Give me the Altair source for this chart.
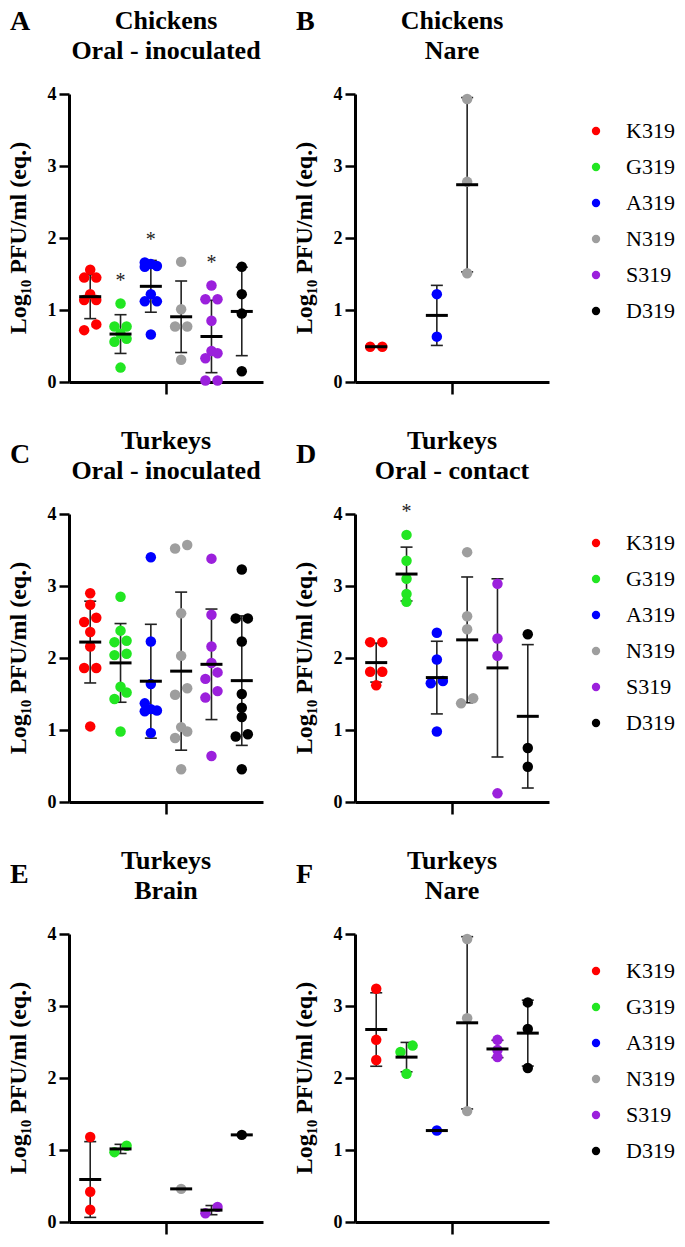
import altair as alt
import pandas as pd

strains = ["K319", "G319", "A319", "N319", "S319", "D319"]
colors = ["#ff0000", "#22e622", "#0000ff", "#9e9e9e", "#9b20dc", "#000000"]

chickens_oral_inoc = {
    "K319": [1.56, 1.45, 1.45, 1.22, 1.14, 1.14, 0.80, 0.72],
    "G319": [1.09, 0.77, 0.77, 0.67, 0.60, 0.56, 0.20],
    "A319": [1.66, 1.64, 1.61, 1.60, 1.22, 1.12, 1.12, 0.66],
    "N319": [1.67, 1.01, 0.77, 0.77, 0.31],
    "S319": [1.34, 1.15, 1.15, 0.85, 0.43, 0.40, 0.33, 0.02, 0.02],
    "D319": [1.60, 1.22, 0.95, 0.15],
}
chickens_nare = {
    "K319": [0.49, 0.49], "G319": [], "A319": [1.22, 0.63],
    "N319": [3.93, 2.78, 1.51], "S319": [], "D319": [],
}
turkeys_oral_inoc = {
    "K319": [2.90, 2.74, 2.56, 2.50, 2.36, 2.16, 1.86, 1.86, 1.05],
    "G319": [2.85, 2.38, 2.24, 2.22, 2.06, 2.04, 1.60, 1.52, 1.43, 0.98],
    "A319": [3.40, 2.23, 1.64, 1.37, 1.29, 1.27, 1.26, 0.96],
    "N319": [3.57, 3.52, 2.62, 2.03, 1.58, 1.49, 1.04, 0.98, 0.89, 0.455],
    "S319": [3.38, 2.60, 2.16, 1.93, 1.80, 1.71, 1.54, 1.45, 0.64],
    "D319": [3.23, 2.55, 2.55, 2.23, 1.50, 1.31, 1.18, 0.94, 0.91, 0.455],
}
turkeys_oral_contact = {
    "K319": [2.22, 2.22, 1.81, 1.81, 1.62],
    "G319": [3.71, 3.35, 3.10, 2.89, 2.78],
    "A319": [2.35, 1.98, 1.68, 1.65, 0.98],
    "N319": [3.47, 2.58, 2.40, 1.44, 1.37],
    "S319": [3.03, 2.27, 2.03, 0.12],
    "D319": [2.33, 0.75, 0.49],
}
turkeys_brain = {
    "K319": [1.18, 0.42, 0.17], "G319": [1.06, 0.97], "A319": [],
    "N319": [0.46], "S319": [0.21, 0.12], "D319": [1.21],
}
turkeys_nare = {
    "K319": [3.24, 2.53, 2.25], "G319": [2.45, 2.36, 2.06], "A319": [1.27],
    "N319": [3.93, 2.83, 1.54], "S319": [2.53, 2.39, 2.29], "D319": [3.05, 2.68, 2.14],
}
sig_chickens_oral = ["G319", "A319", "S319"]
sig_turkeys_contact = ["G319"]

YTITLE = "Log\u2081\u2080 PFU/ml (eq.)"
SERIF = "Liberation Serif"
STEP = 0.2  # horizontal spread of overlapping dots (x units)
PATTERNS = {1: [0], 2: [1, -1], 3: [0, 1, -1], 4: [-1, 0, 1, -1]}
W, H = 194, 288


def swarm(vals, gap=0.095):
    order = sorted(range(len(vals)), key=lambda k: -vals[k])
    offs = [0] * len(vals)
    bins = []
    for k in order:
        if bins and vals[bins[-1][-1]] - vals[k] < gap:
            bins[-1].append(k)
        else:
            bins.append([k])
    for b in bins:
        pat = PATTERNS.get(len(b), [((j + 1) // 2) * (1 if j % 2 else -1) for j in range(len(b))])
        for k, p in zip(b, pat):
            offs[k] = p
    return offs


xscale = alt.Scale(domain=[0.3, 6.7], nice=False, zero=False)
yscale = alt.Scale(domain=[0, 4], nice=False)
xaxis = alt.Axis(values=[3.5], labels=False, title=None, tickSize=12, grid=False)
yaxis = alt.Axis(values=[0, 1, 2, 3, 4], grid=False, tickSize=10, labelPadding=3,
                 title=None, format="d")


def label_text(txt, x, y, size, align, angle=0):
    return alt.Chart(pd.DataFrame({"t": [txt]})).mark_text(
        font=SERIF, fontSize=size, fontWeight="bold", align=align, baseline="alphabetic",
        color="black", angle=angle).encode(text="t:N", x=alt.value(x), y=alt.value(y))


def panel(data, title_lines, letter, letter_y, legend_top=None, sig=()):
    rows = []
    for i, s in enumerate(strains):
        vals = data[s]
        for v, o in zip(vals, swarm(vals)):
            rows.append({"strain": s, "idx": i + 1, "value": v, "pos": i + 1 + o * STEP})
    df = pd.DataFrame(rows)
    base = alt.Chart(df)
    X_idx = alt.X("idx:Q", scale=xscale, axis=xaxis, title=None)

    stats = base.transform_aggregate(
        m="mean(value)", sd="stdev(value)", n="count()", groupby=["strain", "idx"]
    ).transform_calculate(lo="datum.m - datum.sd", hi="datum.m + datum.sd")
    multi = stats.transform_filter("datum.n > 1")

    err = multi.mark_rule(color="#222222", strokeWidth=1.6).encode(
        x=X_idx, y=alt.Y("lo:Q", scale=yscale, axis=yaxis), y2="hi:Q")
    cap_hi = multi.mark_tick(orient="horizontal", size=12, thickness=1.6, color="#222222",
                             opacity=1).encode(
        x=X_idx, y=alt.Y("hi:Q", scale=yscale, axis=yaxis))
    cap_lo = multi.mark_tick(orient="horizontal", size=12, thickness=1.6, color="#222222",
                             opacity=1).encode(
        x=X_idx, y=alt.Y("lo:Q", scale=yscale, axis=yaxis))

    if legend_top is None:
        leg = None
    else:
        leg = alt.Legend(orient="right", offset=36, title=" ", titleFontSize=legend_top,
                         titlePadding=8, titleFont=SERIF,
                         symbolType="circle", symbolSize=70, symbolStrokeWidth=0,
                         symbolOpacity=1, labelFont=SERIF, labelFontSize=22,
                         labelColor="black", labelOffset=19, rowPadding=14, padding=0)
    pts = base.mark_circle(size=110, opacity=1).encode(
        x=alt.X("pos:Q", scale=xscale, axis=xaxis, title=None),
        y=alt.Y("value:Q", scale=yscale, axis=yaxis),
        color=alt.Color("strain:N", scale=alt.Scale(domain=strains, range=colors), legend=leg),
    )
    mean_t = stats.mark_tick(orient="horizontal", size=22, thickness=3, color="black",
                             opacity=1).encode(
        x=X_idx, y=alt.Y("m:Q", scale=yscale, axis=yaxis))

    layers = [err, cap_hi, cap_lo, pts, mean_t,
              label_text(letter, -59, letter_y, 28, "left"),
              label_text(title_lines[0], W / 2, -65, 26, "center"),
              label_text(title_lines[1], W / 2, -35, 26, "center"),
              label_text(YTITLE, -43, H / 2, 24, "center", angle=270)]
    if sig:
        star = base.transform_filter(
            alt.FieldOneOfPredicate(field="strain", oneOf=list(sig))
        ).transform_aggregate(mx="max(value)", groupby=["idx"]).transform_calculate(
            ay="datum.mx + 0.37"
        ).mark_text(text="*", font=SERIF, fontSize=20, color="#222222", dy=4).encode(
            x=X_idx, y=alt.Y("ay:Q", scale=yscale, axis=yaxis))
        layers.append(star)

    return alt.layer(*layers).properties(width=W, height=H)


pA = panel(chickens_oral_inoc, ["Chickens", "Oral - inoculated"], "A", -64, sig=sig_chickens_oral)
pB = panel(chickens_nare, ["Chickens", "Nare"], "B", -64, legend_top=18)
pC = panel(turkeys_oral_inoc, ["Turkeys", "Oral - inoculated"], "C", -51)
pD = panel(turkeys_oral_contact, ["Turkeys", "Oral - contact"], "D", -51, legend_top=10,
           sig=sig_turkeys_contact)
pE = panel(turkeys_brain, ["Turkeys", "Brain"], "E", -51)
pF = panel(turkeys_nare, ["Turkeys", "Nare"], "F", -51, legend_top=18)

chart = alt.concat(
    pA, pB, pC, pD, pE, pF, columns=2,
    spacing=alt.RowColnumber(row=132, column=92), bounds="flush",
).resolve_scale(
    color="independent", x="independent", y="independent"
).resolve_legend(color="independent").properties(
    padding={"top": 0, "bottom": 0, "left": -2, "right": 0}
).configure_view(
    stroke=None
).configure_axis(
    domainColor="black", domainWidth=3, tickColor="black", tickWidth=2.5,
    labelFont=SERIF, labelFontSize=18, labelFontWeight="bold", labelColor="black",
)

chart.save("out.html", embed_options={"renderer": "svg", "actions": False})
